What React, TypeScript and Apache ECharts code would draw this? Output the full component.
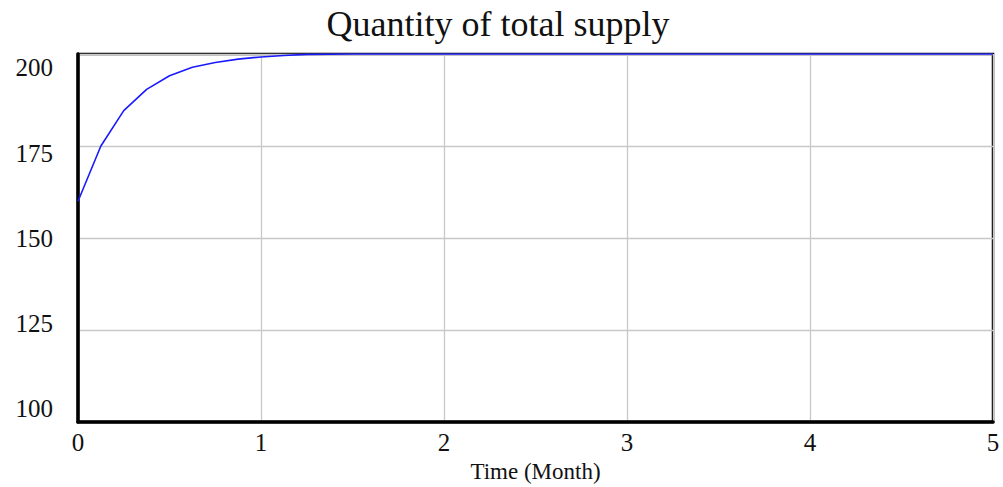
import React, { useEffect, useRef } from "react";
import * as echarts from "echarts";

const titleText = "Quantity of total supply";
const xAxisName = "Time (Month)";
const timeValues = [0, 0.125, 0.25, 0.375, 0.5, 0.625, 0.75, 0.875, 1, 1.125, 1.25, 1.5, 2, 3, 4, 5];
const supplyValues = [160, 175, 184.6, 190.4, 194.1, 196.4, 197.7, 198.6, 199.2, 199.6, 199.9, 200, 200, 200, 200, 200];
const yTickValues = [100, 125, 150, 175, 200];

export default function App() {
  const ref = useRef<HTMLDivElement>(null);
  useEffect(() => {
    if (!ref.current) return;
    const chart = echarts.init(ref.current, null, { renderer: "svg" });
    const font = "'Liberation Serif', 'Times New Roman', serif";
    chart.setOption({
      animation: false,
      backgroundColor: "#ffffff",
      title: {
        text: titleText,
        left: 493,
        top: 1,
        textAlign: "center",
        textStyle: { fontFamily: font, fontSize: 36, fontWeight: "normal", color: "#111" },
      },
      grid: {
        left: 78,
        right: 10,
        top: 54,
        bottom: 65,
        show: true,
        borderColor: "#000",
        borderWidth: 2.5,
        backgroundColor: "transparent",
        outerBoundsMode: "none",
        containLabel: false,
      },
      xAxis: {
        type: "value",
        min: 0,
        max: 5,
        interval: 1,
        name: xAxisName,
        nameLocation: "middle",
        nameGap: 35,
        nameTextStyle: { fontFamily: font, fontSize: 23, color: "#111" },
        axisLine: { show: true, lineStyle: { color: "#000", width: 3.5 } },
        axisTick: { show: false },
        axisLabel: { fontFamily: font, fontSize: 25, color: "#111", margin: 8 },
        splitLine: { show: true, lineStyle: { color: "#c8c8c8", width: 1.3 } },
      },
      yAxis: [
        {
          type: "value",
          min: 100,
          max: 200,
          interval: 25,
          axisLine: { show: true, lineStyle: { color: "#000", width: 3.5 } },
          axisTick: { show: false },
          axisLabel: { show: false },
          splitLine: { show: true, lineStyle: { color: "#c8c8c8", width: 1.3 } },
        },
        {
          type: "value",
          position: "left",
          min: 96,
          max: 204.1,
          axisLine: { show: false },
          axisTick: { show: false },
          splitLine: { show: false },
          axisLabel: {
            customValues: yTickValues,
            fontFamily: font,
            fontSize: 25,
            color: "#111",
            margin: 25,
          },
        },
      ],
      series: [
        {
          type: "line",
          yAxisIndex: 0,
          data: timeValues.map((t, i) => [t, supplyValues[i]]),
          showSymbol: false,
          lineStyle: { color: "#1a1aff", width: 1.6 },
          z: 5,
        },
      ],
    });
    return () => chart.dispose();
  }, []);
  return (
    <div
      ref={ref}
      style={{ position: "fixed", left: 0, top: 0, width: 1003, height: 487 }}
    />
  );
}
